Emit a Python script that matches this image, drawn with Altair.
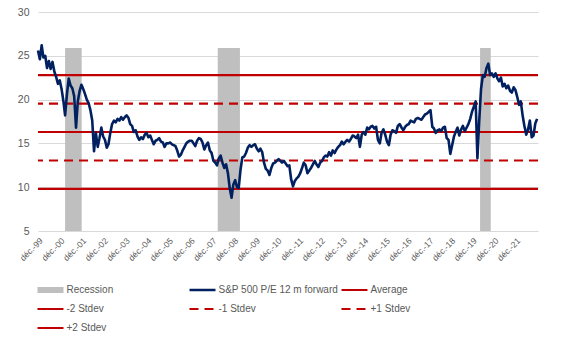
import altair as alt
import pandas as pd

# ---------------- data ----------------
SP = "S&P 500 P/E 12 m forward"
series_names = ["Recession", SP, "Average", "-2 Stdev", "-1 Stdev", "+1 Stdev", "+2 Stdev"]
series_colors = ["#bfbfbf", "#002060", "#c00000", "#c00000", "#c00000", "#c00000", "#c00000"]

pe_1999 = [25.6]
pe_2000 = [24.6, 26.2, 24.8, 25.0, 23.6, 24.4, 23.5, 24.3, 23.2, 22.6, 21.8, 22.2]
pe_2001 = [21.2, 19.8, 18.2, 20.6, 22.4, 21.6, 21.3, 20.4, 16.8, 19.8, 21.0, 21.7]
pe_2002 = [21.2, 20.6, 20.0, 19.6, 18.8, 17.6, 14.1, 16.2, 14.6, 15.6, 16.8, 15.8]
pe_2003 = [15.4, 14.5, 14.9, 16.2, 17.2, 17.6, 17.4, 17.8, 17.6, 18.0, 17.7, 18.0]
pe_2004 = [18.2, 17.9, 17.2, 17.0, 16.3, 16.5, 15.8, 15.4, 15.7, 15.5, 16.0, 16.2]
pe_2005 = [15.7, 15.9, 15.4, 14.9, 15.3, 15.4, 15.6, 15.2, 15.1, 14.6, 15.0, 15.0]
pe_2006 = [15.1, 14.9, 14.8, 14.7, 14.2, 13.5, 13.7, 14.2, 14.6, 15.0, 15.2, 15.3]
pe_2007 = [15.3, 15.0, 14.7, 15.3, 15.6, 15.5, 15.1, 14.3, 14.8, 15.1, 14.2, 13.9]
pe_2008 = [13.0, 12.8, 12.5, 13.3, 13.6, 12.8, 12.2, 12.6, 11.6, 9.9, 8.8, 10.3]
pe_2009 = [10.8, 10.0, 9.9, 12.0, 13.4, 13.5, 13.9, 14.5, 14.8, 14.6, 14.8, 14.9]
pe_2010 = [14.4, 14.1, 14.4, 14.0, 12.8, 12.1, 11.9, 11.4, 12.2, 12.7, 12.8, 13.0]
pe_2011 = [13.2, 13.0, 12.8, 13.0, 12.7, 12.4, 12.5, 10.9, 10.1, 10.7, 11.0, 11.2]
pe_2012 = [11.6, 12.2, 12.8, 12.5, 11.6, 11.9, 12.2, 12.6, 13.0, 12.6, 12.3, 12.8]
pe_2013 = [13.0, 13.4, 13.6, 13.5, 14.0, 13.6, 14.2, 13.9, 14.3, 14.6, 14.8, 15.2]
pe_2014 = [14.9, 15.2, 15.4, 15.2, 15.5, 15.9, 15.8, 15.6, 16.0, 14.6, 16.0, 16.3]
pe_2015 = [16.0, 16.8, 16.6, 16.9, 17.0, 16.7, 16.9, 15.4, 15.0, 16.2, 16.6, 16.0]
pe_2016 = [15.2, 14.8, 16.0, 16.5, 16.4, 16.2, 17.0, 17.2, 16.8, 16.5, 16.9, 17.1]
pe_2017 = [17.2, 17.6, 17.5, 17.4, 17.8, 17.9, 17.8, 17.7, 18.0, 18.3, 18.4, 18.6]
pe_2018 = [18.8, 16.9, 16.7, 16.2, 16.5, 16.6, 16.4, 16.8, 16.9, 15.6, 15.4, 13.8]
pe_2019 = [14.8, 15.8, 16.3, 16.8, 15.9, 16.6, 17.0, 16.4, 16.8, 17.2, 17.8, 18.6]
pe_2020 = [19.2, 19.8, 13.3, 17.6, 21.2, 22.8, 22.6, 23.6, 24.1, 22.8, 23.0, 22.6]
pe_2021 = [23.0, 22.4, 22.1, 22.5, 21.5, 21.8, 21.3, 21.6, 21.0, 20.8, 21.4, 21.1]
pe_2022 = [20.3, 19.4, 19.8, 18.2, 17.0, 16.0, 16.6, 17.6, 15.7, 15.9, 17.3, 17.8]

stat_names = ["Average", "-2 Stdev", "-1 Stdev", "+1 Stdev", "+2 Stdev"]
stat_values = [16.3, 9.8, 13.05, 19.55, 22.8]

recession_start = ["2001-03-01", "2008-03-13", "2020-04-15"]
recession_end = ["2001-12-05", "2009-03-22", "2020-10-12"]
recession_low = 5
recession_high = 25.9

tick_years = list(range(1999, 2022))

# ---------------- frames ----------------
pe_values = (pe_1999 + pe_2000 + pe_2001 + pe_2002 + pe_2003 + pe_2004 + pe_2005 + pe_2006
             + pe_2007 + pe_2008 + pe_2009 + pe_2010 + pe_2011 + pe_2012 + pe_2013 + pe_2014
             + pe_2015 + pe_2016 + pe_2017 + pe_2018 + pe_2019 + pe_2020 + pe_2021 + pe_2022)
pe_df = pd.DataFrame({
    "date": pd.date_range("1999-12-01", periods=len(pe_values), freq="MS").strftime("%Y-%m-%d"),
    "value": pe_values,
    "series": SP,
})
stat_df = pd.DataFrame({"series": stat_names, "value": stat_values})
rec_df = pd.DataFrame({
    "start": recession_start, "end": recession_end,
    "low": recession_low, "high": recession_high,
})

FONT = "Liberation Sans"
TXT = "#595959"

x_scale = alt.Scale(domain=[alt.DateTime(year=1999, month=12, date=1),
                            alt.DateTime(year=2022, month=12, date=16)])
y_scale = alt.Scale(domain=[5, 30], nice=False, zero=False)

x_axis = alt.Axis(
    values=[alt.DateTime(year=y, month=12, date=1) for y in tick_years],
    labelExpr="'déc.-' + timeFormat(datum.value, '%y')",
    labelAngle=-45, labelFont=FONT, labelFontSize=8.5, labelColor=TXT,
    labelOverlap=False, labelFlush=False, labelBound=False,
    grid=False, ticks=False, domain=False, labelPadding=5, title=None,
)
y_axis = alt.Axis(
    values=[5, 10, 15, 20, 25, 30], grid=True, gridColor="#d9d9d9", gridWidth=1,
    ticks=False, domain=False, labelFont=FONT, labelFontSize=10.5, labelColor=TXT,
    labelPadding=9, title=None,
)

legend = alt.Legend(
    title=None, orient="none", legendX=-3.5, legendY=268.5, columns=3, direction="horizontal",
    symbolType="stroke", symbolSize=676, labelFont=FONT, labelFontSize=10,
    labelColor=TXT, labelOffset=0, columnPadding=-4, rowPadding=0, gridAlign="all",
    clipHeight=19,
)
color = alt.Color("series:N", scale=alt.Scale(domain=series_names, range=series_colors),
                  legend=legend)
dash = alt.StrokeDash("series:N",
                      scale=alt.Scale(domain=series_names,
                                      range=[[1, 0], [1, 0], [1, 0], [1, 0], [9, 6], [9, 6], [1, 0]]),
                      legend=legend)
width_enc = alt.StrokeWidth("series:N",
                            scale=alt.Scale(type="ordinal", domain=series_names,
                                            range=[6, 2.6, 2.2, 2.2, 2.2, 2.2, 2.2]),
                            legend=legend)

rec = alt.Chart(rec_df).mark_rect(color="#bfbfbf").encode(
    x=alt.X("start:T", scale=x_scale, axis=x_axis),
    x2="end:T",
    y=alt.Y("low:Q", scale=y_scale, axis=y_axis),
    y2="high:Q",
)
rules = alt.Chart(stat_df).mark_rule().encode(
    y=alt.Y("value:Q", scale=y_scale, axis=y_axis),
    color=color, strokeDash=dash, strokeWidth=width_enc,
)
line = alt.Chart(pe_df).mark_line(strokeJoin="round").encode(
    x=alt.X("date:T", scale=x_scale, axis=x_axis),
    y=alt.Y("value:Q", scale=y_scale, axis=y_axis),
    color=color, strokeDash=dash, strokeWidth=width_enc,
)

chart = alt.layer(rec, rules, line).properties(
    width=500, height=219,
    autosize=alt.AutoSizeParams(type="none"),
    padding={"left": 38, "top": 12, "right": 32, "bottom": 111},
    background="white",
).configure_view(stroke=None)

chart.save("out.html", embed_options={"renderer": "svg", "actions": False})
